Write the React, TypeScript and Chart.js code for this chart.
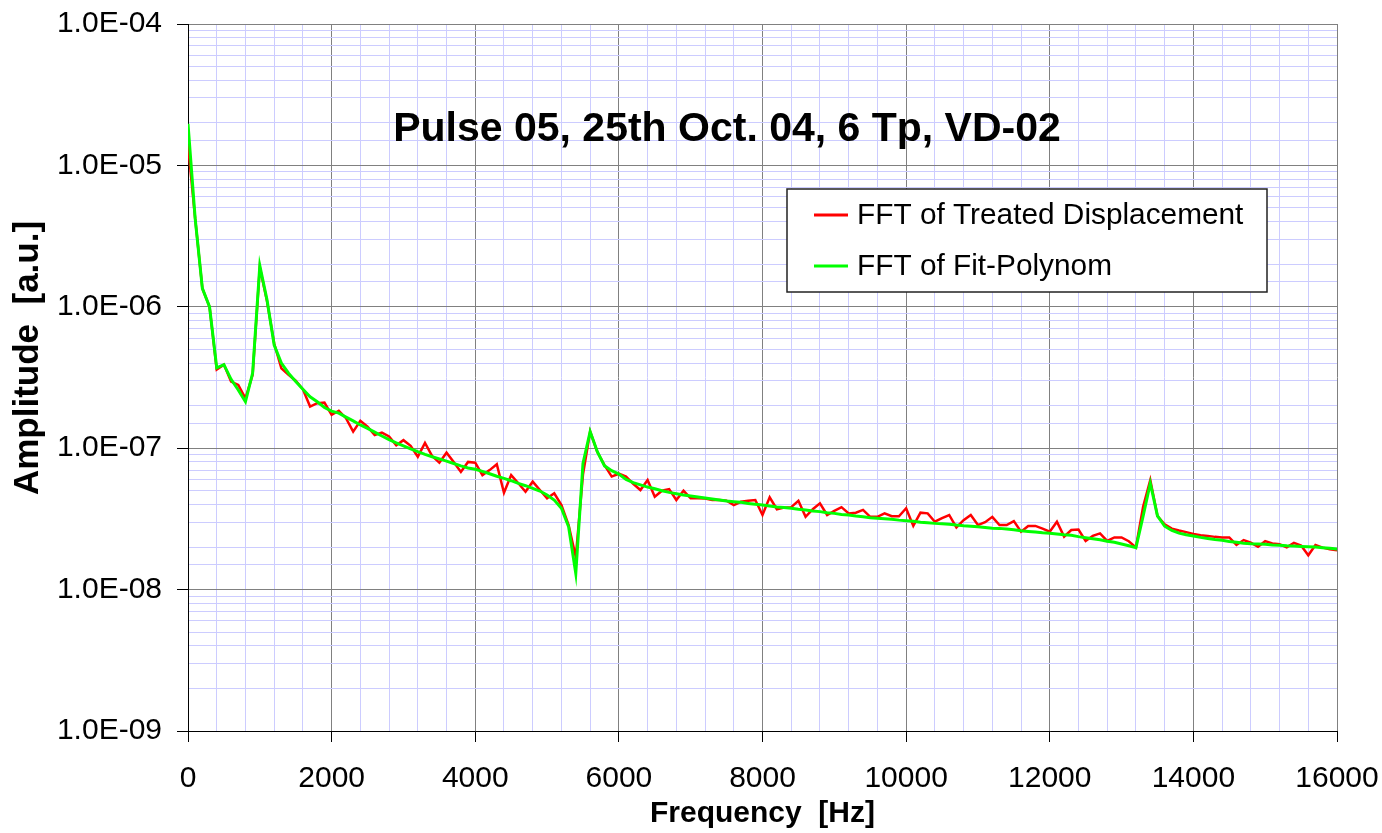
import React, { useEffect, useRef } from 'react';
import { Chart, registerables } from 'chart.js';

Chart.register(...registerables);

// ---------- data ----------
const FREQ_STEP_HZ = 100;
const frequencies: number[] = Array.from({ length: 161 }, (_, i) => i * FREQ_STEP_HZ);

const legendLabels: string[] = ['FFT of Treated Displacement', 'FFT of Fit-Polynom'];
const chartTitle = 'Pulse 05, 25th Oct. 04, 6 Tp, VD-02';
const xTitle = 'Frequency  [Hz]';
const yTitle = 'Amplitude  [a.u.]';

// FFT of Treated Displacement (red), every 100 Hz from 0 to 16000 Hz
const treatedDisplacement: number[] = [
  1.4e-5, 4.2e-6, 1.35e-6, 1.0e-6, 3.6e-7, 3.9e-7, 2.96e-7, 2.8e-7, 2.25e-7, 3.3e-7,
  1.9e-6, 1.1e-6, 5.5e-7, 3.67e-7, 3.3e-7, 3.0e-7, 2.61e-7, 1.97e-7, 2.08e-7, 2.1e-7,
  1.72e-7, 1.84e-7, 1.63e-7, 1.31e-7, 1.56e-7, 1.42e-7, 1.24e-7, 1.29e-7, 1.21e-7, 1.05e-7,
  1.14e-7, 1.04e-7, 8.7e-8, 1.09e-7, 8.8e-8, 7.9e-8, 9.3e-8, 8.0e-8, 6.8e-8, 8.0e-8,
  7.9e-8, 6.45e-8, 7.0e-8, 7.7e-8, 4.84e-8, 6.45e-8, 5.65e-8, 4.92e-8, 5.8e-8, 5.06e-8,
  4.42e-8, 4.8e-8, 3.96e-8, 2.86e-8, 1.7e-8, 6.5e-8, 1.31e-7, 9.4e-8, 7.6e-8, 6.3e-8,
  6.6e-8, 6.3e-8, 5.6e-8, 5.06e-8, 5.96e-8, 4.54e-8, 5.0e-8, 5.14e-8, 4.3e-8, 5.0e-8,
  4.42e-8, 4.42e-8, 4.4e-8, 4.3e-8, 4.3e-8, 4.25e-8, 3.96e-8, 4.18e-8, 4.25e-8, 4.3e-8,
  3.37e-8, 4.49e-8, 3.7e-8, 3.8e-8, 3.83e-8, 4.25e-8, 3.27e-8, 3.7e-8, 4.07e-8, 3.37e-8,
  3.6e-8, 3.83e-8, 3.46e-8, 3.5e-8, 3.66e-8, 3.27e-8, 3.27e-8, 3.46e-8, 3.3e-8, 3.3e-8,
  3.76e-8, 2.82e-8, 3.5e-8, 3.46e-8, 3.02e-8, 3.2e-8, 3.37e-8, 2.75e-8, 3.1e-8, 3.37e-8,
  2.86e-8, 3.0e-8, 3.27e-8, 2.86e-8, 2.86e-8, 3.05e-8, 2.57e-8, 2.82e-8, 2.82e-8, 2.7e-8,
  2.57e-8, 3.02e-8, 2.37e-8, 2.64e-8, 2.66e-8, 2.21e-8, 2.4e-8, 2.5e-8, 2.21e-8, 2.34e-8,
  2.34e-8, 2.2e-8, 1.99e-8, 3.85e-8, 5.96e-8, 3.31e-8, 2.9e-8, 2.7e-8, 2.62e-8, 2.55e-8,
  2.47e-8, 2.42e-8, 2.39e-8, 2.36e-8, 2.34e-8, 2.34e-8, 2.07e-8, 2.24e-8, 2.15e-8, 2.01e-8,
  2.2e-8, 2.12e-8, 2.09e-8, 1.99e-8, 2.14e-8, 2.05e-8, 1.75e-8, 2.07e-8, 1.98e-8, 1.93e-8,
  1.9e-8,
];

// FFT of Fit-Polynom (green), every 100 Hz from 0 to 16000 Hz
const fitPolynom: number[] = [
  1.97e-5, 4.2e-6, 1.35e-6, 1.0e-6, 3.7e-7, 3.9e-7, 3.07e-7, 2.58e-7, 2.13e-7, 3.4e-7,
  1.95e-6, 1.12e-6, 5.37e-7, 4.0e-7, 3.39e-7, 2.96e-7, 2.61e-7, 2.31e-7, 2.13e-7, 1.94e-7,
  1.83e-7, 1.77e-7, 1.66e-7, 1.56e-7, 1.46e-7, 1.38e-7, 1.3e-7, 1.22e-7, 1.15e-7, 1.09e-7,
  1.04e-7, 9.9e-8, 9.45e-8, 9.05e-8, 8.7e-8, 8.4e-8, 8.1e-8, 7.8e-8, 7.5e-8, 7.25e-8,
  7.1e-8, 6.86e-8, 6.6e-8, 6.33e-8, 6.12e-8, 5.89e-8, 5.64e-8, 5.43e-8, 5.2e-8, 4.98e-8,
  4.67e-8, 4.3e-8, 3.76e-8, 2.78e-8, 1.3e-8, 7.8e-8, 1.31e-7, 9.45e-8, 7.5e-8, 6.94e-8,
  6.56e-8, 6.02e-8, 5.7e-8, 5.5e-8, 5.31e-8, 5.17e-8, 5.0e-8, 4.87e-8, 4.77e-8, 4.67e-8,
  4.59e-8, 4.52e-8, 4.45e-8, 4.38e-8, 4.3e-8, 4.23e-8, 4.18e-8, 4.14e-8, 4.07e-8, 4.01e-8,
  3.96e-8, 3.9e-8, 3.84e-8, 3.8e-8, 3.76e-8, 3.7e-8, 3.66e-8, 3.6e-8, 3.56e-8, 3.5e-8,
  3.46e-8, 3.4e-8, 3.37e-8, 3.31e-8, 3.27e-8, 3.22e-8, 3.19e-8, 3.17e-8, 3.14e-8, 3.1e-8,
  3.07e-8, 3.04e-8, 3.0e-8, 2.97e-8, 2.94e-8, 2.92e-8, 2.9e-8, 2.86e-8, 2.83e-8, 2.81e-8,
  2.78e-8, 2.75e-8, 2.72e-8, 2.71e-8, 2.68e-8, 2.65e-8, 2.61e-8, 2.58e-8, 2.55e-8, 2.52e-8,
  2.5e-8, 2.47e-8, 2.44e-8, 2.42e-8, 2.37e-8, 2.33e-8, 2.29e-8, 2.25e-8, 2.2e-8, 2.16e-8,
  2.1e-8, 2.04e-8, 1.98e-8, 3.3e-8, 5.65e-8, 3.32e-8, 2.81e-8, 2.62e-8, 2.51e-8, 2.44e-8,
  2.39e-8, 2.34e-8, 2.3e-8, 2.26e-8, 2.23e-8, 2.19e-8, 2.16e-8, 2.13e-8, 2.11e-8, 2.1e-8,
  2.09e-8, 2.07e-8, 2.06e-8, 2.04e-8, 2.03e-8, 2.02e-8, 2.01e-8, 2.0e-8, 1.98e-8, 1.96e-8,
  1.94e-8,
];

const X_MIN = 0;
const X_MAX = 16000;
const X_MINOR_STEP = 400;
const X_MAJOR_STEP = 2000;
const Y_MIN = 1e-9;
const Y_MAX = 1e-4;

const FONT = "'Liberation Sans', Arial, Helvetica, sans-serif";
const RED = '#ff0000';
const GREEN = '#00ff00';
const MAJOR_GRID = '#808080';
const MINOR_GRID = '#ccccff';

const isPow10 = (v: number) => {
  const l = Math.log10(v);
  return Math.abs(l - Math.round(l)) < 1e-6;
};
const fmtSci = (v: number) => {
  const e = Math.round(Math.log10(v));
  return `1.0E${e < 0 ? '-' : '+'}${String(Math.abs(e)).padStart(2, '0')}`;
};

const overlayPlugin = {
  id: 'overlay',
  afterDraw(chart: any) {
    const { ctx, chartArea } = chart;
    const L = chartArea.left;
    const T = chartArea.top;
    ctx.save();
    // y axis title (rotated)
    ctx.fillStyle = '#000';
    ctx.font = `bold 35px ${FONT}`;
    ctx.textAlign = 'center';
    ctx.textBaseline = 'middle';
    ctx.save();
    ctx.translate(28, 358);
    ctx.rotate(-Math.PI / 2);
    ctx.fillText(yTitle, 0, 0);
    ctx.restore();

    // chart title inside plot area
    ctx.font = `bold 41px ${FONT}`;
    ctx.textAlign = 'center';
    ctx.textBaseline = 'middle';
    ctx.fillText(chartTitle, L + 539, T + 106);

    // legend box
    const bx = L + 599;
    const by = T + 165;
    const bw = 480;
    const bh = 103;
    ctx.fillStyle = '#ffffff';
    ctx.fillRect(bx, by, bw, bh);
    ctx.strokeStyle = '#222';
    ctx.lineWidth = 1.5;
    ctx.strokeRect(bx, by, bw, bh);
    const colors = [RED, GREEN];
    const rows = [by + 26, by + 77];
    ctx.font = `29.8px ${FONT}`;
    ctx.textAlign = 'left';
    ctx.textBaseline = 'middle';
    legendLabels.forEach((lab, i) => {
      ctx.strokeStyle = colors[i];
      ctx.lineWidth = 3;
      ctx.beginPath();
      ctx.moveTo(bx + 27, rows[i]);
      ctx.lineTo(bx + 61, rows[i]);
      ctx.stroke();
      ctx.fillStyle = '#000';
      ctx.fillText(lab, bx + 70, rows[i] + 1);
    });
    ctx.restore();
  },
};

export default function App() {
  const ref = useRef<HTMLCanvasElement | null>(null);

  useEffect(() => {
    const canvas = ref.current;
    if (!canvas) return;
    const chart = new Chart(canvas, {
      type: 'line',
      data: {
        datasets: [
          {
            label: legendLabels[0],
            data: frequencies.map((f, i) => ({ x: f, y: treatedDisplacement[i] })),
            borderColor: RED,
            backgroundColor: RED,
            borderWidth: 2.5,
            pointRadius: 0,
            tension: 0,
            order: 1,
          },
          {
            label: legendLabels[1],
            data: frequencies.map((f, i) => ({ x: f, y: fitPolynom[i] })),
            borderColor: GREEN,
            backgroundColor: GREEN,
            borderWidth: 3,
            pointRadius: 0,
            tension: 0,
            order: 0,
          },
        ],
      },
      options: {
        animation: false,
        responsive: false,
        maintainAspectRatio: false,
        events: [],
        layout: { padding: { left: 0, top: 24, right: 45, bottom: 0 } },
        plugins: {
          legend: { display: false },
          tooltip: { enabled: false },
          title: { display: false },
        },
        scales: {
          x: {
            type: 'linear',
            min: X_MIN,
            max: X_MAX,
            afterFit: (s: any) => {
              s.height = 102;
              s.paddingLeft = 0;
              s.paddingRight = 0;
            },
            ticks: {
              stepSize: X_MINOR_STEP,
              autoSkip: false,
              maxRotation: 0,
              minRotation: 0,
              padding: 19,
              color: '#000',
              font: { family: FONT, size: 30 },
              callback: (v: any) => (Number(v) % X_MAJOR_STEP === 0 ? String(v) : ''),
            },
            grid: {
              color: (c: any) =>
                c.tick && c.tick.value % X_MAJOR_STEP === 0 ? MAJOR_GRID : MINOR_GRID,
              tickColor: (c: any) =>
                c.tick && c.tick.value % X_MAJOR_STEP === 0 ? '#000' : 'rgba(0,0,0,0)',
              tickLength: 11,
              lineWidth: 1,
            },
            border: { color: '#000', width: 1 },
            title: {
              display: true,
              text: xTitle,
              color: '#000',
              font: { family: FONT, size: 30, weight: 'bold' },
              padding: { top: 0, bottom: 1 },
            },
          },
          y: {
            type: 'logarithmic',
            min: Y_MIN,
            max: Y_MAX,
            afterFit: (s: any) => {
              s.width = 188;
              s.paddingTop = 0;
              s.paddingBottom = 0;
            },
            ticks: {
              autoSkip: false,
              padding: 15,
              color: '#000',
              font: { family: FONT, size: 30 },
              callback: (v: any) => (isPow10(Number(v)) ? fmtSci(Number(v)) : ''),
            },
            grid: {
              color: (c: any) => (c.tick && isPow10(c.tick.value) ? MAJOR_GRID : MINOR_GRID),
              tickColor: (c: any) =>
                c.tick && isPow10(c.tick.value) ? '#000' : 'rgba(0,0,0,0)',
              tickLength: 11,
              lineWidth: 1,
            },
            border: { color: '#000', width: 1 },
            title: { display: false },
          },
        },
      },
      plugins: [overlayPlugin],
    } as any);
    return () => chart.destroy();
  }, []);

  return (
    <div style={{ position: 'absolute', left: 0, top: 0, width: 1382, height: 833, background: '#fff' }}>
      <canvas ref={ref} width={1382} height={833} style={{ width: 1382, height: 833, display: 'block' }} />
    </div>
  );
}
